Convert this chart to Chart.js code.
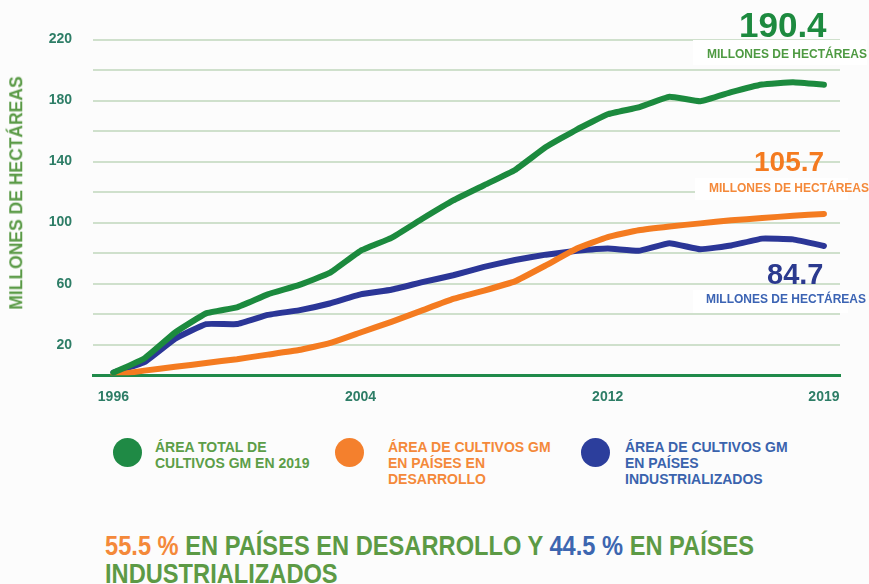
<!DOCTYPE html>
<html lang="es">
<head>
<meta charset="utf-8">
<title>Área de cultivos GM 1996–2019</title>
<script src="https://cdn.jsdelivr.net/npm/chart.js@4/dist/chart.umd.min.js"></script>
<style>
  html, body { margin: 0; padding: 0; }
  body {
    width: 869px; height: 584px; position: relative; overflow: hidden;
    background: #fcfcfc;
    font-family: "Liberation Sans", Arial, Helvetica, sans-serif;
    font-weight: bold;
  }
  #chart { position: absolute; left: 0; top: 0; }
  .abs { position: absolute; white-space: nowrap; }
  .big { line-height: 1; }
  .unit { font-size: 12px; line-height: 1; }
  .box { position: absolute; background: #ffffff; }
  .ytitle {
    font-size: 17.5px; color: #5a9a46; line-height: 1;
    transform: translate(-50%, -50%) rotate(-90deg);
  }
  .legend-dot { position: absolute; width: 29px; height: 29px; border-radius: 50%; }
  .legend-text { font-size: 14px; line-height: 16px; }
  .summary {
    font-size: 28px; line-height: 28px; color: #5c9a45;
    transform: scaleX(0.845); transform-origin: 0 0;
  }
</style>
</head>
<body>
<canvas id="chart" width="869" height="420"></canvas>

<div class="ytitle abs" id="ytitle" style="left:16.5px; top:193px;"></div>

<!-- value callouts at the end of each line -->
<div class="box" style="left:693px; top:40px; width:174px; height:25px;"></div>
<div class="box" style="left:695px; top:178px; width:153px; height:22px;"></div>
<div class="box" style="left:693px; top:290px; width:155px; height:23px;"></div>
<div id="callouts"></div>

<!-- legend -->
<div id="legend"></div>

<!-- summary line -->
<div class="summary abs" style="left:105px; top:532px;">
  <span style="color:#f4893a">55.5 %</span> EN PAÍSES EN DESARROLLO Y <span style="color:#3d66b0">44.5 %</span> EN PAÍSES<br>INDUSTRIALIZADOS
</div>

<script>
// Years and areas (millions of hectares)
const years = [1996, 1997, 1998, 1999, 2000, 2001, 2002, 2003, 2004, 2005, 2006, 2007,
               2008, 2009, 2010, 2011, 2012, 2013, 2014, 2015, 2016, 2017, 2018, 2019];
const totalArea = [1.7, 11, 28, 40.5, 44.5, 53, 59, 67, 81.5, 90, 102.5, 114.5,
                   124.5, 134.5, 149.5, 161, 171, 175.5, 182.5, 179.5, 185.5, 190.5, 192, 190.4];
const developingArea = [0, 3, 5.5, 8, 10.5, 13.5, 16.5, 21, 28, 35, 42.5, 50,
                        55.5, 61.5, 72, 83, 90.5, 95, 97.5, 99.5, 101.5, 103, 104.5, 105.7];
const industrialArea = [1.7, 8.5, 24, 33.5, 33.5, 39.5, 42.5, 47, 53, 56, 61, 65.5,
                        71, 75.5, 79, 81.5, 83, 81.5, 86.5, 82.5, 85, 89.5, 89, 84.7];

// Axis ticks
const xTickYears = [1996, 2004, 2012, 2019];
const yTickLabels = [20, 60, 100, 140, 180, 220];

// Texts
const yAxisTitle = "MILLONES DE HECTÁREAS";
const unitText = "MILLONES DE HECTÁREAS";
const legendItems = [
  { lines: ["ÁREA TOTAL DE", "CULTIVOS GM EN 2019"], dot: "#1f8a45", text: "#5c9e48" },
  { lines: ["ÁREA DE CULTIVOS GM", "EN PAÍSES EN", "DESARROLLO"], dot: "#f4802d", text: "#f4893a" },
  { lines: ["ÁREA DE CULTIVOS GM", "EN PAÍSES", "INDUSTRIALIZADOS"], dot: "#2c3e9c", text: "#3a63ad" }
];

const GREEN = "#1c8a3e", ORANGE = "#f47b20", BLUE = "#2b3697";
const TICK_COLOR = "#2d7d66";
const GRID_COLOR = "#cfe0cc";

function series(values) {
  return years.map((yr, i) => ({ x: yr, y: values[i] }));
}

function lineDataset(label, values, color, order) {
  return {
    label, data: series(values), borderColor: color, backgroundColor: color,
    borderWidth: 6, pointRadius: 0, tension: 0.1, order,
    borderCapStyle: "round", borderJoinStyle: "round"
  };
}

new Chart(document.getElementById("chart"), {
  type: "line",
  data: {
    datasets: [
      lineDataset("Área total", totalArea, GREEN, 1),
      lineDataset("Países en desarrollo", developingArea, ORANGE, 2),
      lineDataset("Países industrializados", industrialArea, BLUE, 3)
    ]
  },
  options: {
    responsive: false,
    devicePixelRatio: 1,
    animation: false,
    layout: { padding: { top: 39.5, right: 29, left: 0, bottom: 0 } },
    plugins: { legend: { display: false }, tooltip: { enabled: false } },
    scales: {
      x: {
        type: "linear",
        min: 1995.34,
        max: 2019.52,
        afterBuildTicks: (scale) => { scale.ticks = xTickYears.map(v => ({ value: v })); },
        afterFit: (scale) => { scale.height = 44.8; },
        grid: { display: false, drawTicks: false },
        border: { display: true, color: "#1f8a4a", width: 3 },
        ticks: {
          autoSkip: false, maxRotation: 0, padding: 14,
          color: TICK_COLOR, font: { family: "'Liberation Sans', Arial, sans-serif", size: 14, weight: "bold" },
          callback: (v) => String(v)
        }
      },
      y: {
        min: 0,
        max: 220,
        afterFit: (scale) => { scale.width = 93; },
        grid: {
          drawTicks: false, lineWidth: 2,
          color: (c) => (c.tick && c.tick.value === 0) ? "rgba(0,0,0,0)" : GRID_COLOR
        },
        border: { display: false },
        ticks: {
          stepSize: 20, padding: 21,
          color: TICK_COLOR, font: { family: "'Liberation Sans', Arial, sans-serif", size: 14, weight: "bold" },
          callback: (v) => yTickLabels.includes(v) ? String(v) : ""
        }
      }
    }
  }
});

// Axis title
document.getElementById("ytitle").textContent = yAxisTitle;

// Callouts: final values with unit line
const callouts = [
  { value: totalArea[totalArea.length - 1], color: "#1d8a3f", size: 35, left: 739, base: 37,
    unitColor: "#4e9a42", unitLeft: 707, unitBase: 58.5 },
  { value: developingArea[developingArea.length - 1], color: "#f47b20", size: 28, left: 754, base: 172,
    unitColor: "#f4893a", unitLeft: 709, unitBase: 192.5 },
  { value: industrialArea[industrialArea.length - 1], color: "#2b3a8f", size: 29, left: 767, base: 285,
    unitColor: "#3c64b4", unitLeft: 706, unitBase: 303.5 }
];
const calloutHost = document.getElementById("callouts");
callouts.forEach(c => {
  const num = document.createElement("div");
  num.className = "abs big";
  num.style.cssText = `left:${c.left}px; top:${c.base - 0.8465 * c.size}px; font-size:${c.size}px; color:${c.color};`;
  num.textContent = c.value.toFixed(1);
  calloutHost.appendChild(num);
  const unit = document.createElement("div");
  unit.className = "abs unit";
  unit.style.cssText = `left:${c.unitLeft}px; top:${c.unitBase - 0.8465 * 12}px; color:${c.unitColor};`;
  unit.textContent = unitText;
  calloutHost.appendChild(unit);
});

// Legend
const legendPos = [
  { dotX: 127, textX: 155 },
  { dotX: 349.5, textX: 388 },
  { dotX: 595.5, textX: 625 }
];
const legendHost = document.getElementById("legend");
legendItems.forEach((item, i) => {
  const p = legendPos[i];
  const dot = document.createElement("div");
  dot.className = "legend-dot";
  dot.style.cssText = `left:${p.dotX - 14.5}px; top:${452 - 14.5}px; background:${item.dot};`;
  legendHost.appendChild(dot);
  const txt = document.createElement("div");
  txt.className = "abs legend-text";
  txt.style.cssText = `left:${p.textX}px; top:439px; color:${item.text};`;
  txt.innerHTML = item.lines.join("<br>");
  legendHost.appendChild(txt);
});
</script>
</body>
</html>
